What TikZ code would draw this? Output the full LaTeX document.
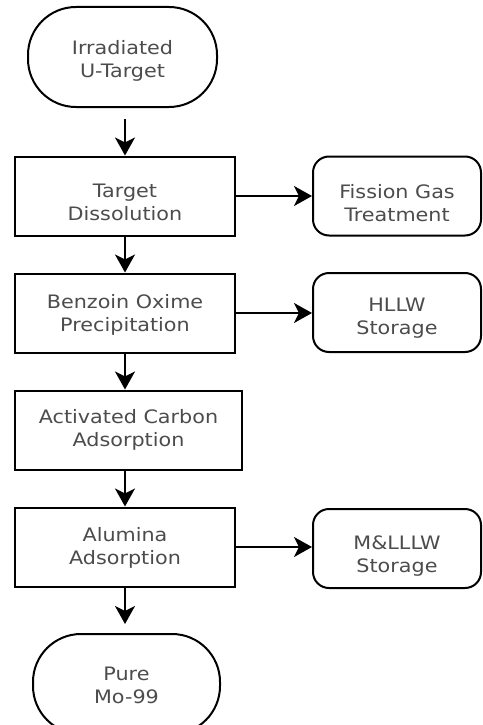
\documentclass[tikz,border=0pt]{standalone}
\usepackage{fontspec}
\setmainfont{DejaVu Sans}[FakeStretch=1.12]
\usetikzlibrary{arrows.meta}
\tikzset{
  x=1pt, y=-1pt,
  base/.style={draw=black, line width=2pt, inner sep=0pt},
  txtstyle/.style={align=center, text=black!70, inner sep=0pt,
    font=\fontsize{18.5}{23}\selectfont},
  txt/.style 2 args={label={[txtstyle,yshift=-#1pt]center:#2}},
  procbox/.style={base, rectangle, minimum height=79pt},
  sidebox/.style={base, rectangle, rounded corners=16pt, minimum width=168pt, minimum height=79pt},
  termbox/.style={base, rectangle, rounded corners=48pt, minimum height=100pt},
  flow/.style={line width=2pt, -{Stealth[length=18pt,width=20pt,inset=5pt]}}
}
\begin{document}
\begin{tikzpicture}
\useasboundingbox (0,0) rectangle (482,725);
\fill[white] (0,0) rectangle (482,725);
\node[termbox, minimum width=189pt, txt={4}{Irradiated\\U-Target}] (t0) at (122.5,57) {};
\node[procbox, minimum width=220pt, txt={6}{Target\\Dissolution}] (b1) at (125,196) {};
\node[procbox, minimum width=220pt, txt={2}{Benzoin Oxime\\Precipitation}] (b2) at (125,313) {};
\node[procbox, minimum width=227pt, txt={0}{Activated Carbon\\Adsorption}] (b3) at (128.5,430) {};
\node[procbox, minimum width=220pt, txt={1}{Alumina\\Adsorption}] (b4) at (125,547) {};
\node[termbox, minimum width=187pt, txt={1}{Pure\\Mo-99}] (t1) at (126.5,684) {};
\node[sidebox, txt={7}{Fission Gas\\Treatment}] (s1) at (397,196) {};
\node[sidebox, txt={6}{HLLW\\Storage}] (s2) at (397,312.5) {};
\node[sidebox, txt={8}{M\&LLLW\\Storage}] (s3) at (397,548.5) {};
\draw[flow, shorten <=11pt] (b1.north |- t0.south) -- (b1.north);
\draw[flow] (b1.south) -- (b2.north);
\draw[flow] (b2.south) -- (b2.south |- b3.north);
\draw[flow] (b4.north |- b3.south) -- (b4.north);
\draw[flow, shorten >=9pt] (b4.south) -- (b4.south |- t1.north);
\draw[flow] (b1.east) -- (s1.west);
\draw[flow] (b2.east) -- (b2.east -| s2.west);
\draw[flow] (b4.east) -- (b4.east -| s3.west);
\end{tikzpicture}
\end{document}
